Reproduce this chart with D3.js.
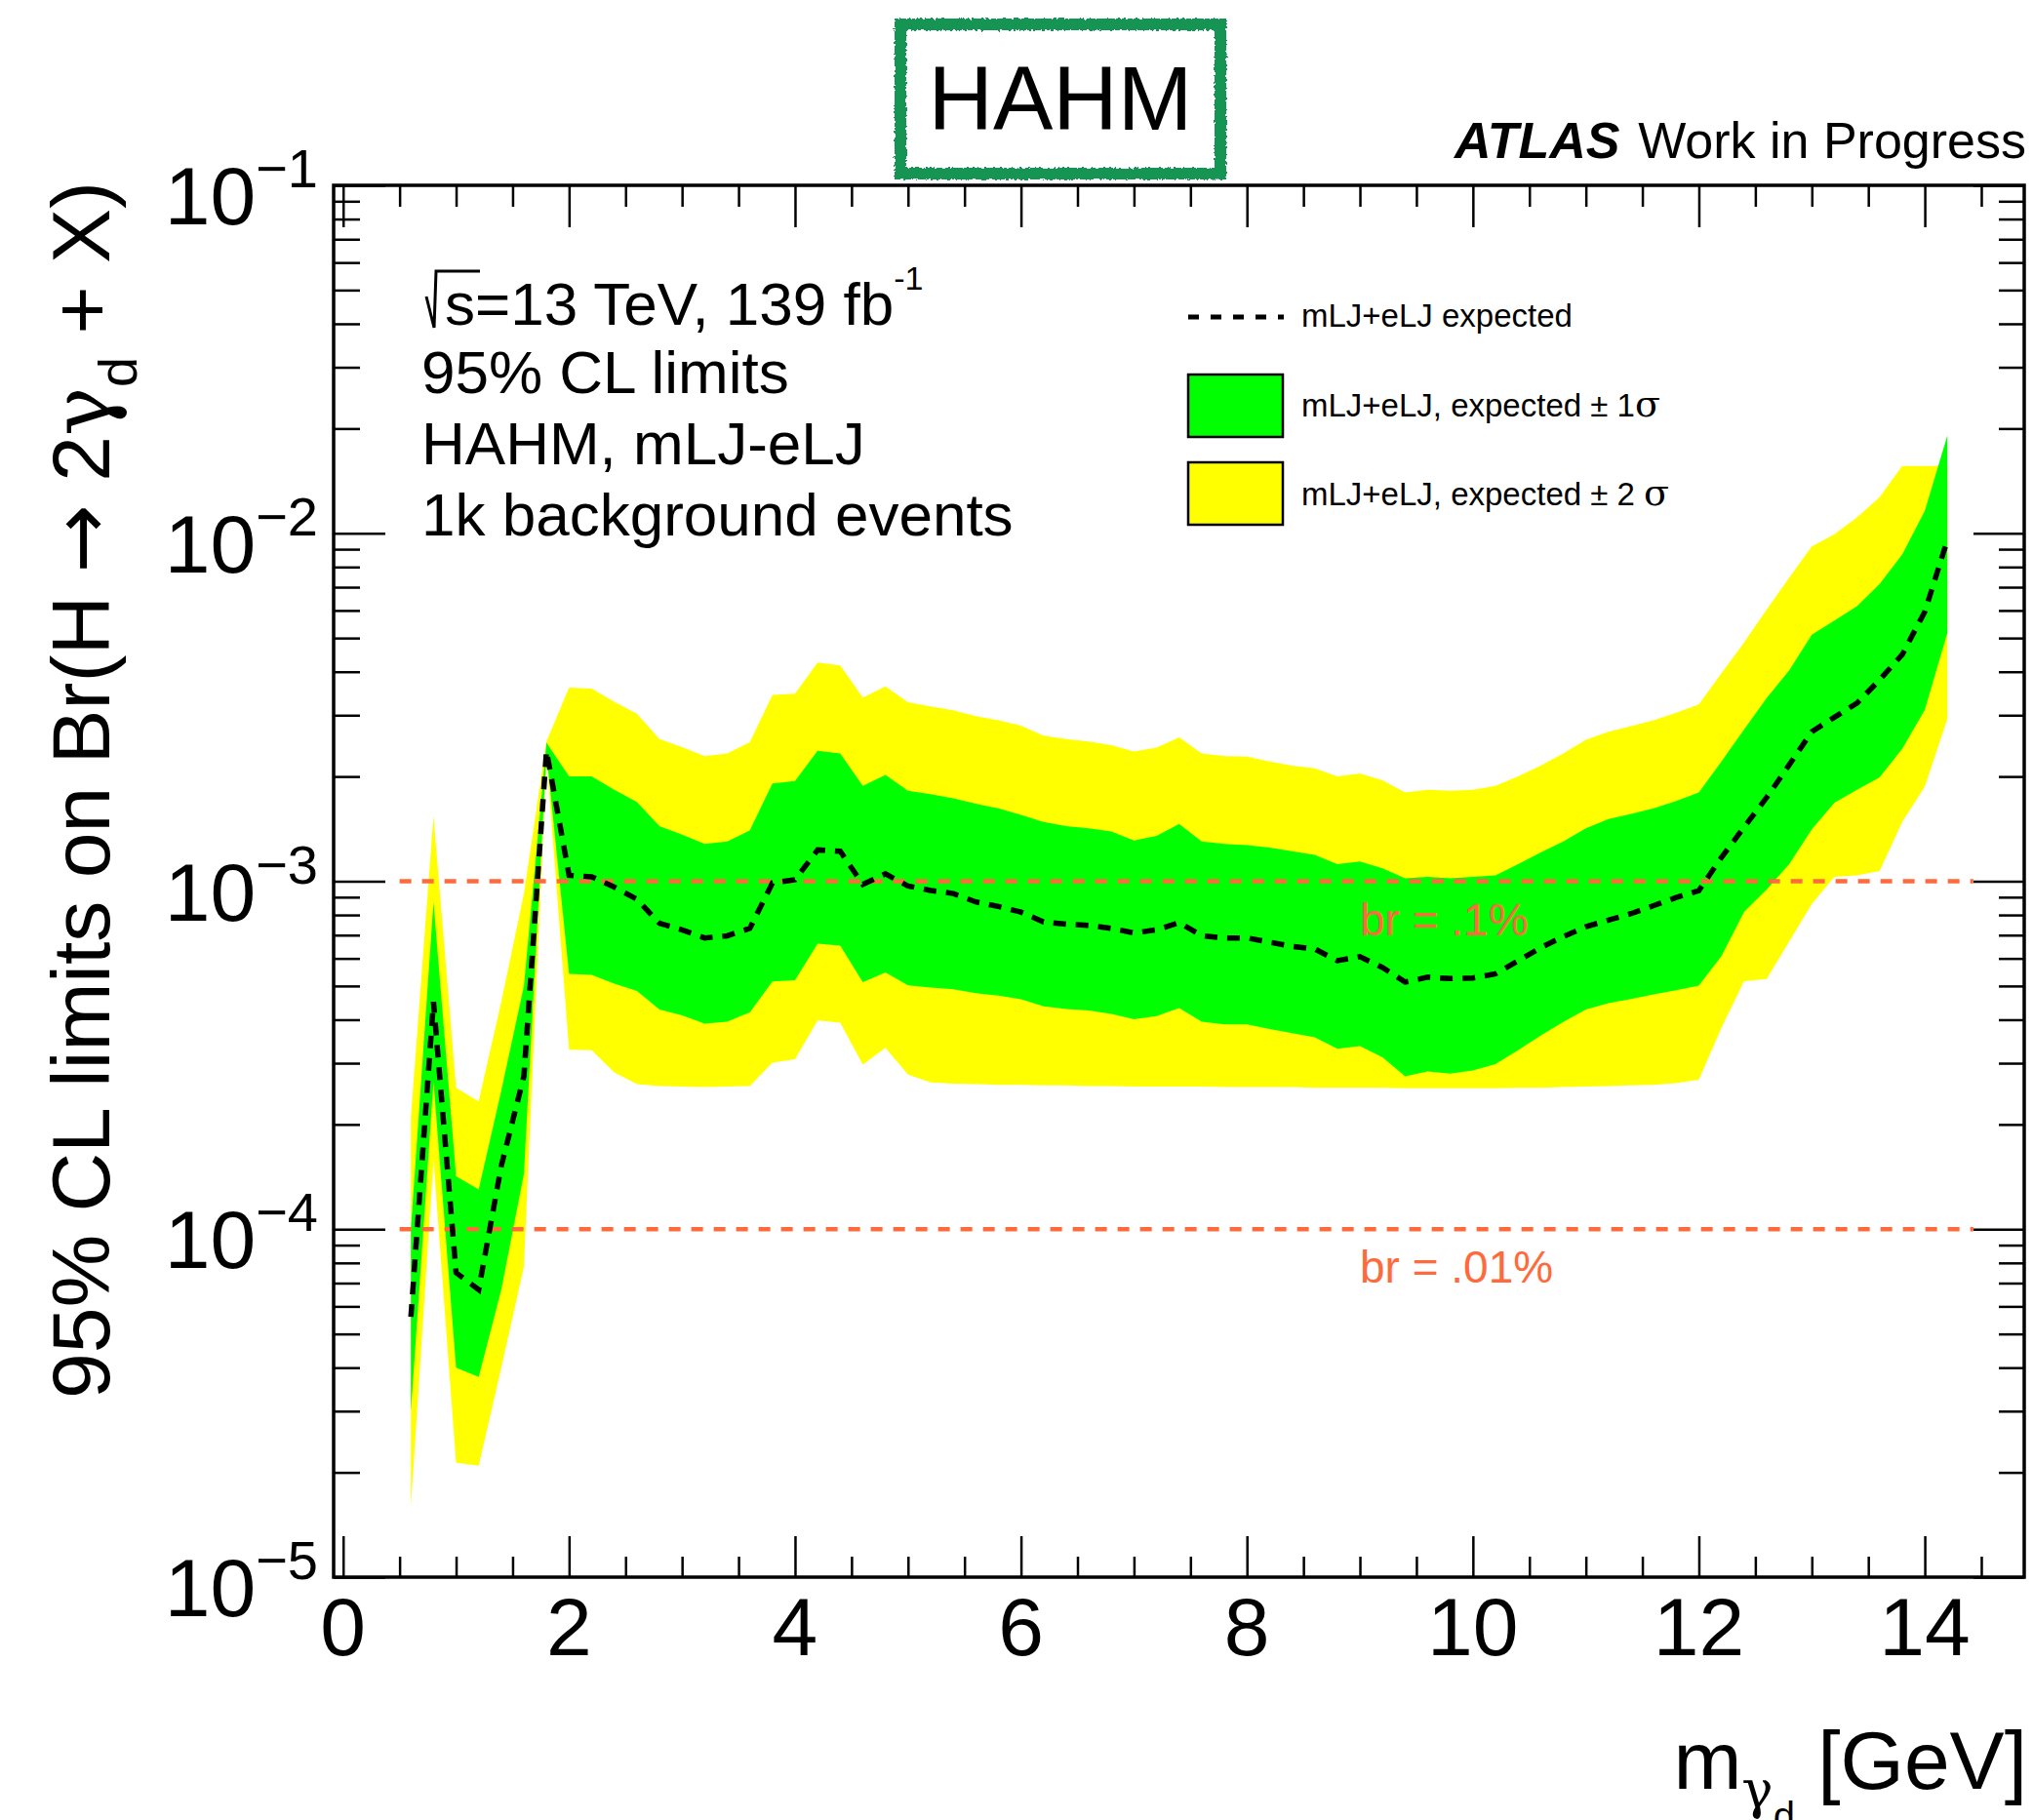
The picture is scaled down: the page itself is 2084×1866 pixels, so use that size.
<!DOCTYPE html>
<html>
<head>
<meta charset="utf-8">
<title>HAHM expected limits</title>
<script src="https://cdn.jsdelivr.net/npm/d3@7"></script>
<style>
  body { margin: 0; background: #fff; }
  svg { display: block; font-family: "Liberation Sans", Arial, Helvetica, sans-serif; }
</style>
</head>
<body>
<svg id="chart" width="2084" height="1866"></svg>
<script>
// dark photon mass points [GeV]
var mass = [0.6, 0.8, 1.0, 1.2, 1.4, 1.6, 1.8, 2.0, 2.2, 2.4,
  2.6, 2.8, 3.0, 3.2, 3.4, 3.6, 3.8, 4.0, 4.2, 4.4,
  4.6, 4.8, 5.0, 5.2, 5.4, 5.6, 5.8, 6.0, 6.2, 6.4,
  6.6, 6.8, 7.0, 7.2, 7.4, 7.6, 7.8, 8.0, 8.2, 8.4,
  8.6, 8.8, 9.0, 9.2, 9.4, 9.6, 9.8, 10.0, 10.2, 10.4,
  10.6, 10.8, 11.0, 11.2, 11.4, 11.6, 11.8, 12.0, 12.2, 12.4,
  12.6, 12.8, 13.0, 13.2, 13.4, 13.6, 13.8, 14.0, 14.2];

// expected +2 sigma
var exp2Up = [2.1e-4, 1.54e-3, 2.55e-4, 2.33e-4, 4.5e-4, 9.2e-4, 2.52e-3, 3.60e-3, 3.58e-3, 3.28e-3,
  3.03e-3, 2.56e-3, 2.43e-3, 2.29e-3, 2.33e-3, 2.51e-3, 3.43e-3, 3.46e-3, 4.25e-3, 4.17e-3,
  3.37e-3, 3.63e-3, 3.27e-3, 3.18e-3, 3.10e-3, 2.98e-3, 2.90e-3, 2.80e-3, 2.62e-3, 2.56e-3,
  2.52e-3, 2.46e-3, 2.36e-3, 2.42e-3, 2.59e-3, 2.33e-3, 2.29e-3, 2.28e-3, 2.21e-3, 2.15e-3,
  2.11e-3, 2.00e-3, 2.04e-3, 1.95e-3, 1.80e-3, 1.83e-3, 1.82e-3, 1.83e-3, 1.88e-3, 2.00e-3,
  2.15e-3, 2.33e-3, 2.55e-3, 2.69e-3, 2.79e-3, 2.90e-3, 3.05e-3, 3.22e-3, 3.96e-3, 4.85e-3,
  6.03e-3, 7.46e-3, 9.16e-3, 9.94e-3, 1.11e-2, 1.27e-2, 1.56e-2, 1.56e-2, 1.56e-2];

// expected +1 sigma
var exp1Up = [1.0e-4, 8.7e-4, 1.42e-4, 1.30e-4, 2.5e-4, 5.0e-4, 2.50e-3, 2.00e-3, 2.00e-3, 1.83e-3,
  1.69e-3, 1.44e-3, 1.36e-3, 1.28e-3, 1.30e-3, 1.40e-3, 1.91e-3, 1.94e-3, 2.37e-3, 2.33e-3,
  1.88e-3, 2.02e-3, 1.82e-3, 1.78e-3, 1.73e-3, 1.67e-3, 1.62e-3, 1.55e-3, 1.48e-3, 1.44e-3,
  1.42e-3, 1.39e-3, 1.31e-3, 1.35e-3, 1.46e-3, 1.30e-3, 1.28e-3, 1.27e-3, 1.25e-3, 1.22e-3,
  1.19e-3, 1.12e-3, 1.14e-3, 1.09e-3, 1.02e-3, 1.03e-3, 1.02e-3, 1.03e-3, 1.04e-3, 1.12e-3,
  1.21e-3, 1.30e-3, 1.42e-3, 1.51e-3, 1.56e-3, 1.62e-3, 1.70e-3, 1.80e-3, 2.21e-3, 2.73e-3,
  3.36e-3, 4.04e-3, 5.11e-3, 5.61e-3, 6.17e-3, 7.15e-3, 8.69e-3, 1.16e-2, 1.91e-2];

// expected median
var expMed = [5.6e-5, 4.5e-4, 7.5e-5, 6.7e-5, 1.52e-4, 2.75e-4, 2.37e-3, 1.04e-3, 1.03e-3, 9.62e-4,
  8.88e-4, 7.57e-4, 7.25e-4, 6.87e-4, 6.97e-4, 7.32e-4, 9.89e-4, 1.01e-3, 1.23e-3, 1.22e-3,
  9.79e-4, 1.05e-3, 9.69e-4, 9.41e-4, 9.22e-4, 8.72e-4, 8.46e-4, 8.15e-4, 7.64e-4, 7.53e-4,
  7.47e-4, 7.32e-4, 7.10e-4, 7.25e-4, 7.60e-4, 6.97e-4, 6.87e-4, 6.87e-4, 6.68e-4, 6.50e-4,
  6.39e-4, 5.91e-4, 6.07e-4, 5.65e-4, 5.13e-4, 5.30e-4, 5.25e-4, 5.27e-4, 5.42e-4, 5.91e-4,
  6.44e-4, 6.93e-4, 7.40e-4, 7.73e-4, 8.07e-4, 8.51e-4, 8.98e-4, 9.40e-4, 1.17e-3, 1.43e-3,
  1.74e-3, 2.16e-3, 2.69e-3, 2.96e-3, 3.25e-3, 3.79e-3, 4.48e-3, 5.95e-3, 9.57e-3];

// expected -1 sigma
var exp1Dn = [3.0e-5, 2.65e-4, 4.0e-5, 3.76e-5, 6.7e-5, 1.44e-4, 2.33e-3, 5.42e-4, 5.38e-4, 5.08e-4,
  4.84e-4, 4.28e-4, 4.12e-4, 3.90e-4, 3.95e-4, 4.20e-4, 5.15e-4, 5.19e-4, 6.62e-4, 6.53e-4,
  5.13e-4, 5.47e-4, 5.02e-4, 4.95e-4, 4.89e-4, 4.77e-4, 4.69e-4, 4.58e-4, 4.37e-4, 4.29e-4,
  4.25e-4, 4.16e-4, 4.01e-4, 4.10e-4, 4.32e-4, 3.95e-4, 3.88e-4, 3.88e-4, 3.76e-4, 3.66e-4,
  3.56e-4, 3.30e-4, 3.36e-4, 3.12e-4, 2.75e-4, 2.84e-4, 2.80e-4, 2.86e-4, 2.98e-4, 3.27e-4,
  3.60e-4, 3.94e-4, 4.28e-4, 4.46e-4, 4.59e-4, 4.73e-4, 4.86e-4, 5.01e-4, 6.09e-4, 8.16e-4,
  9.47e-4, 1.12e-3, 1.41e-3, 1.68e-3, 1.83e-3, 1.99e-3, 2.40e-3, 3.11e-3, 5.18e-3];

// expected -2 sigma
var exp2Dn = [1.6e-5, 1.58e-4, 2.13e-5, 2.09e-5, 4.0e-5, 7.8e-5, 2.28e-3, 3.28e-4, 3.27e-4, 2.82e-4,
  2.61e-4, 2.58e-4, 2.57e-4, 2.56e-4, 2.57e-4, 2.58e-4, 3.01e-4, 3.08e-4, 3.98e-4, 3.92e-4,
  2.97e-4, 3.32e-4, 2.78e-4, 2.64e-4, 2.62e-4, 2.61e-4, 2.60e-4, 2.60e-4, 2.59e-4, 2.59e-4,
  2.58e-4, 2.58e-4, 2.57e-4, 2.57e-4, 2.57e-4, 2.57e-4, 2.56e-4, 2.56e-4, 2.56e-4, 2.56e-4,
  2.55e-4, 2.55e-4, 2.55e-4, 2.55e-4, 2.54e-4, 2.54e-4, 2.54e-4, 2.54e-4, 2.54e-4, 2.55e-4,
  2.55e-4, 2.56e-4, 2.57e-4, 2.58e-4, 2.59e-4, 2.60e-4, 2.63e-4, 2.69e-4, 3.79e-4, 5.16e-4,
  5.24e-4, 6.71e-4, 8.60e-4, 1.03e-3, 1.04e-3, 1.07e-3, 1.48e-3, 1.87e-3, 2.93e-3];

// reference branching ratios
var refValues = [1e-3, 1e-4];
var refLabels = ["br = .1%", "br = .01%"];
var refRange = [0.5, 14.43];

var xTickValues = [0, 2, 4, 6, 8, 10, 12, 14];
var yTickValues = [1e-5, 1e-4, 1e-3, 1e-2, 1e-1];
var yTickExponents = ["\u22125", "\u22124", "\u22123", "\u22122", "\u22121"];

var infoLines = ["95% CL limits", "HAHM, mLJ-eLJ", "1k background events"];
var legendLabels = ["mLJ+eLJ expected", "mLJ+eLJ, expected \u00b1 1", "mLJ+eLJ, expected \u00b1 2 "];

var svg = d3.select("#chart");
var frame = {left: 342, right: 2075, top: 190, bottom: 1617};
var orange = "#ff6a3c";
var greek = "'DejaVu Serif', 'Liberation Serif', serif";

svg.append("rect").attr("width", 2084).attr("height", 1866).attr("fill", "#fff");

var x = d3.scaleLinear().domain([-0.084, 14.88]).range([frame.left, frame.right]);
var y = d3.scaleLog().domain([1e-5, 1e-1]).range([frame.bottom, frame.top]);

///____________________ bands ____________________

function band(lo, hi) {
  return d3.area()
    .x(function (d, i) { return x(mass[i]); })
    .y0(function (d, i) { return y(lo[i]); })
    .y1(function (d, i) { return y(hi[i]); });
}

svg.append("path").datum(mass).attr("d", band(exp2Dn, exp2Up)).attr("fill", "#ffff00");
svg.append("path").datum(mass).attr("d", band(exp1Dn, exp1Up)).attr("fill", "#00ff00");

// br reference lines
refValues.forEach(function (v, i) {
  svg.append("line")
    .attr("x1", x(refRange[0])).attr("x2", x(refRange[1]))
    .attr("y1", y(v)).attr("y2", y(v))
    .attr("stroke", orange).attr("stroke-width", 4.5)
    .attr("stroke-dasharray", "12,11");
  svg.append("text")
    .attr("x", x(9.0)).attr("y", y(v) + 55)
    .attr("fill", orange).style("font-size", "46px")
    .text(refLabels[i]);
});

// expected median
svg.append("path").datum(mass)
  .attr("d", d3.line()
    .x(function (d, i) { return x(mass[i]); })
    .y(function (d, i) { return y(expMed[i]); }))
  .attr("fill", "none").attr("stroke", "#000")
  .attr("stroke-width", 5.5).attr("stroke-dasharray", "13,10");

///____________________ axes ____________________

function ticks(axis, tr, size, values) {
  var g = svg.append("g").attr("transform", tr)
    .call(axis.tickValues(values).tickSize(-size).tickSizeOuter(0).tickFormat(""));
  g.select(".domain").remove();
  g.selectAll(".tick line").attr("stroke", "#000").attr("stroke-width", 2.5);
}

var xMinor = x.ticks(30).filter(function (d) { return d % 2 !== 0; });
var yMinor = y.ticks().filter(function (d) {
  var l = Math.log10(d);
  return Math.abs(l - Math.round(l)) > 1e-6;
});

ticks(d3.axisBottom(x), "translate(0," + frame.bottom + ")", 42, xTickValues);
ticks(d3.axisBottom(x), "translate(0," + frame.bottom + ")", 21, xMinor);
ticks(d3.axisTop(x), "translate(0," + frame.top + ")", 43, xTickValues);
ticks(d3.axisTop(x), "translate(0," + frame.top + ")", 22, xMinor);
ticks(d3.axisLeft(y), "translate(" + frame.left + ",0)", 53, yTickValues);
ticks(d3.axisLeft(y), "translate(" + frame.left + ",0)", 27, yMinor);
ticks(d3.axisRight(y), "translate(" + frame.right + ",0)", 52, yTickValues);
ticks(d3.axisRight(y), "translate(" + frame.right + ",0)", 26, yMinor);

svg.append("rect")
  .attr("x", frame.left).attr("y", frame.top)
  .attr("width", frame.right - frame.left).attr("height", frame.bottom - frame.top)
  .attr("fill", "none").attr("stroke", "#000").attr("stroke-width", 3.5);

svg.selectAll(".xlab").data(xTickValues).enter().append("text")
  .attr("class", "xlab")
  .attr("x", function (d) { return x(d); }).attr("y", 1697)
  .attr("text-anchor", "middle").style("font-size", "84px")
  .text(function (d) { return d; });

var ylab = svg.selectAll(".ylab").data(yTickValues).enter().append("text")
  .attr("class", "ylab")
  .attr("x", 326).attr("y", function (d) { return y(d) + 40; })
  .attr("text-anchor", "end").style("font-size", "84px");
ylab.append("tspan").text("10");
ylab.append("tspan").attr("dy", -38).style("font-size", "56px")
  .text(function (d, i) { return yTickExponents[i]; });

// axis titles
var xt = svg.append("text").attr("x", 2078).attr("y", 1834)
  .attr("text-anchor", "end").style("font-size", "84px");
xt.append("tspan").text("m");
xt.append("tspan").attr("dy", 20).style("font-size", "54px").style("font-family", greek).text("\u03b3");
xt.append("tspan").attr("dy", 22).style("font-size", "40px").text("d");
xt.append("tspan").attr("dy", -42).text(" [GeV]");

var yt = svg.append("text")
  .attr("transform", "translate(112,186) rotate(-90)")
  .attr("text-anchor", "end").style("font-size", "84px");
yt.append("tspan").text("95% CL limits on Br(H ");
yt.append("tspan").style("font-family", "'DejaVu Sans', sans-serif").text("\u2192");
yt.append("tspan").text(" 2");
yt.append("tspan").style("font-family", greek).text("\u03b3");
yt.append("tspan").attr("dy", 28).style("font-size", "56px").text("d");
yt.append("tspan").attr("dy", -28).text(" + X)");

///____________________ labels ____________________

// HAHM stamp
var defs = svg.append("defs");
var rough = defs.append("filter").attr("id", "rough")
  .attr("x", "-10%").attr("y", "-10%").attr("width", "120%").attr("height", "120%");
rough.append("feTurbulence").attr("type", "fractalNoise")
  .attr("baseFrequency", 0.35).attr("numOctaves", 2).attr("result", "noise");
rough.append("feDisplacementMap").attr("in", "SourceGraphic").attr("in2", "noise").attr("scale", 5);

svg.append("rect")
  .attr("x", 923).attr("y", 25).attr("width", 328).attr("height", 153)
  .attr("fill", "none").attr("stroke", "#199452").attr("stroke-width", 12)
  .attr("filter", "url(#rough)");
svg.append("text").attr("x", 1087).attr("y", 133)
  .attr("text-anchor", "middle").style("font-size", "92px").text("HAHM");

svg.append("text").attr("x", 1491).attr("y", 162)
  .style("font-size", "52px").style("font-weight", "bold").style("font-style", "italic")
  .text("ATLAS");
svg.append("text").attr("x", 2077).attr("y", 162)
  .attr("text-anchor", "end").style("font-size", "52px")
  .text("Work in Progress");

// energy / lumi line
svg.append("path")
  .attr("d", "M437,304 L445,336 L447,278 L492,278")
  .attr("fill", "none").attr("stroke", "#000").attr("stroke-width", 3);
var lumi = svg.append("text").attr("x", 456).attr("y", 333).style("font-size", "62px");
lumi.append("tspan").text("s=13 TeV, 139 fb");
lumi.append("tspan").attr("dy", -36).style("font-size", "34px").text("-1");

svg.selectAll(".info").data(infoLines).enter().append("text")
  .attr("class", "info")
  .attr("x", 432).attr("y", function (d, i) { return 403 + i * 73; })
  .style("font-size", "62px")
  .text(function (d) { return d; });

// legend
svg.append("line")
  .attr("x1", 1218).attr("x2", 1316).attr("y1", 325).attr("y2", 325)
  .attr("stroke", "#000").attr("stroke-width", 5).attr("stroke-dasharray", "11,12");
svg.append("rect").attr("x", 1218).attr("y", 384).attr("width", 97).attr("height", 64)
  .attr("fill", "#00ff00").attr("stroke", "#000").attr("stroke-width", 2.5);
svg.append("rect").attr("x", 1218).attr("y", 474).attr("width", 97).attr("height", 64)
  .attr("fill", "#ffff00").attr("stroke", "#000").attr("stroke-width", 2.5);

var legY = [335, 427, 518];
legendLabels.forEach(function (t, i) {
  var lt = svg.append("text").attr("x", 1334).attr("y", legY[i]).style("font-size", "33px");
  lt.append("tspan").text(t);
  if (i > 0) {
    lt.append("tspan").style("font-family", greek)
      .style("font-size", "38px").text("\u03c3");
  }
});
</script>
</body>
</html>
